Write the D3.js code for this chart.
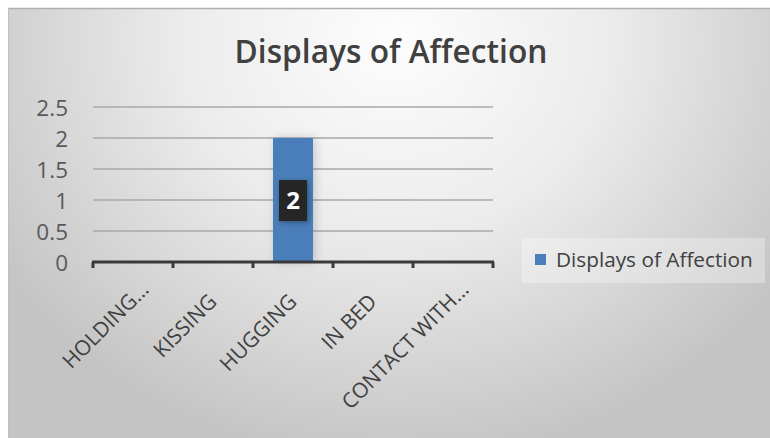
<!DOCTYPE html>
<html>
<head>
<meta charset="utf-8">
<script src="https://cdn.jsdelivr.net/npm/d3@7"></script>
<style>
  html, body { margin: 0; padding: 0; background: #ffffff; }
  svg { display: block; }
</style>
</head>
<body>
<div id="chart"></div>
<script>
// ---- data ----
const chartTitle = "Displays of Affection";
const seriesName = "Displays of Affection";
const categories = ["HOLDING…", "KISSING", "HUGGING", "IN BED", "CONTACT WITH…"];
const values = [0, 0, 2, 0, 0];
const yTicks = [0, 0.5, 1, 1.5, 2, 2.5];

// ---- layout ----
const W = 770, H = 438;
const font = "'Open Sans', 'Noto Sans', sans-serif";
const barColor = "#4a7ebb";
const textColor = "#404040";

const svg = d3.select("#chart").append("svg")
  .attr("width", W).attr("height", H);

const defs = svg.append("defs");
const grad = defs.append("radialGradient")
  .attr("id", "bg")
  .attr("gradientUnits", "userSpaceOnUse")
  .attr("cx", 395).attr("cy", 40).attr("r", 470)
  .attr("gradientTransform", "translate(395,40) scale(1,0.9) translate(-395,-40)");
grad.append("stop").attr("offset", "0").attr("stop-color", "#fdfdfd");
grad.append("stop").attr("offset", "0.45").attr("stop-color", "#ececec");
grad.append("stop").attr("offset", "1").attr("stop-color", "#c4c4c4");

const shadow = defs.append("filter").attr("id", "shadow")
  .attr("x", "-50%").attr("y", "-50%").attr("width", "200%").attr("height", "200%");
shadow.append("feDropShadow").attr("dx", 1.5).attr("dy", 1.5)
  .attr("stdDeviation", 2.5).attr("flood-color", "#000").attr("flood-opacity", 0.35);

const barShadow = defs.append("filter").attr("id", "barShadow")
  .attr("x", "-50%").attr("y", "-20%").attr("width", "200%").attr("height", "140%");
barShadow.append("feDropShadow").attr("dx", 2).attr("dy", 0)
  .attr("stdDeviation", 5).attr("flood-color", "#000").attr("flood-opacity", 0.18);

// chart area background
svg.append("rect")
  .attr("x", 8).attr("y", 8).attr("width", W - 8).attr("height", H - 8)
  .attr("fill", "url(#bg)");
svg.append("line")
  .attr("x1", 8).attr("x2", W).attr("y1", 8.5).attr("y2", 8.5)
  .attr("stroke", "#b0b0b0").attr("stroke-width", 1.5);
svg.append("line")
  .attr("x1", 8.5).attr("x2", 8.5).attr("y1", 8).attr("y2", H)
  .attr("stroke", "#c0c0c0").attr("stroke-width", 1);

// title
const title = svg.append("text")
  .attr("x", 391).attr("y", 63)
  .attr("text-anchor", "middle")
  .attr("font-family", font).attr("font-weight", 600)
  .attr("font-size", 28).attr("fill", textColor)
  .text(chartTitle);
{
  const w = title.node().getComputedTextLength();
  title.attr("font-size", 28 * 313 / w);
}

// scales
const x = d3.scaleBand().domain(categories).range([93, 493])
  .paddingInner(0.5).paddingOuter(0.25);
const y = d3.scaleLinear().domain([0, 2.5]).range([262, 107]);
const step = x.step();
const x0 = x.range()[0];

// gridlines
svg.append("g").selectAll("line")
  .data(yTicks.filter(d => d > 0))
  .join("line")
  .attr("x1", x0).attr("x2", x.range()[1])
  .attr("y1", d => y(d)).attr("y2", d => y(d))
  .attr("stroke", "#a8a8a8").attr("stroke-width", 1.5);

// y axis labels
const yAxis = d3.axisLeft(y).tickValues(yTicks).tickSize(0).tickPadding(0)
  .tickFormat(d3.format("~g"));
const yG = svg.append("g").attr("transform", "translate(68,0)").call(yAxis);
yG.select(".domain").remove();
yG.selectAll("text")
  .attr("font-family", font).attr("font-size", 22.5)
  .attr("fill", "#595959").attr("dy", "0.36em");

// bars
svg.append("g").selectAll("rect")
  .data(categories.map((c, i) => ({ c, v: values[i] })).filter(d => d.v > 0))
  .join("rect")
  .attr("x", d => x(d.c)).attr("width", x.bandwidth())
  .attr("y", d => y(d.v)).attr("height", d => y(0) - y(d.v))
  .attr("fill", barColor)
  .attr("filter", "url(#barShadow)");

// x axis line + ticks
const boundaries = d3.range(categories.length + 1).map(i => x0 + i * step);
svg.append("line")
  .attr("x1", x0 - 1).attr("x2", x.range()[1] + 1)
  .attr("y1", y(0)).attr("y2", y(0))
  .attr("stroke", "#3a3a3a").attr("stroke-width", 3);
svg.append("g").selectAll("line")
  .data(boundaries).join("line")
  .attr("x1", d => d).attr("x2", d => d)
  .attr("y1", y(0)).attr("y2", y(0) + 6)
  .attr("stroke", "#3a3a3a").attr("stroke-width", 3);

// x labels rotated
svg.append("g").selectAll("text")
  .data(categories).join("text")
  .attr("transform", d => {
    const extra = d.endsWith("…") ? 12 : 0;
    const cx = x(d) + x.bandwidth() / 2 + 5 + extra;
    const cy = 303 - extra;
    return `translate(${cx},${cy}) rotate(-45)`;
  })
  .attr("text-anchor", "end")
  .attr("font-family", font).attr("font-size", 21)
  .attr("fill", textColor)
  .text(d => d);

// data labels
const lbl = svg.append("g").selectAll("g")
  .data(categories.map((c, i) => ({ c, v: values[i] })).filter(d => d.v > 0))
  .join("g")
  .attr("transform", d => `translate(${x(d.c) + x.bandwidth() / 2},${y(d.v / 2)})`);
lbl.append("rect")
  .attr("x", -14).attr("y", -20).attr("width", 28).attr("height", 41)
  .attr("fill", "#262626").attr("filter", "url(#shadow)");
lbl.append("text")
  .attr("text-anchor", "middle").attr("dy", "0.36em")
  .attr("font-family", font).attr("font-weight", 700).attr("font-size", 24)
  .attr("fill", "#ffffff")
  .text(d => d.v);

// legend
const lg = svg.append("g");
lg.append("rect")
  .attr("x", 522).attr("y", 238).attr("width", 243).attr("height", 45)
  .attr("fill", "#ffffff").attr("fill-opacity", 0.3);
lg.append("rect")
  .attr("x", 535).attr("y", 254).attr("width", 11).attr("height", 11)
  .attr("fill", barColor);
const lt = lg.append("text")
  .attr("x", 556).attr("y", 267)
  .attr("font-family", font).attr("font-size", 19)
  .attr("fill", textColor)
  .text(seriesName);
{
  const w = lt.node().getComputedTextLength();
  lt.attr("font-size", 19 * 197 / w);
}
</script>
</body>
</html>
